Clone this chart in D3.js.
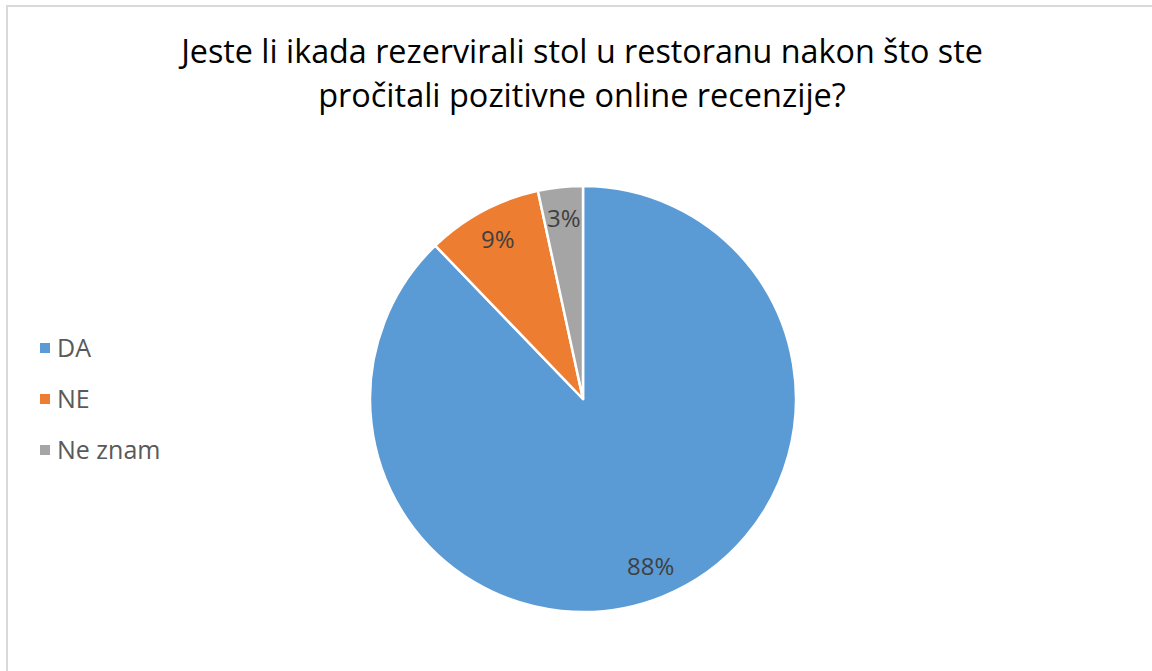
<!DOCTYPE html>
<html>
<head>
<meta charset="utf-8">
<script src="https://cdn.jsdelivr.net/npm/d3@7"></script>
<style>
  html, body { margin: 0; padding: 0; background: #fff; }
  svg { display: block; }
</style>
</head>
<body>
<svg id="chart" width="1152" height="671"></svg>
<script>
const titleLines = ["Jeste li ikada rezervirali stol u restoranu nakon što ste", "pročitali pozitivne online recenzije?"];
const categories = ["DA", "NE", "Ne znam"];
const values = [87.8, 8.8, 3.4];
const labels = ["88%", "9%", "3%"];
const colors = ["#5B9BD5", "#ED7D31", "#A5A5A5"];

const svg = d3.select("#chart");
const FONT = "'Open Sans', 'Liberation Sans', sans-serif";

// chart border
svg.append("rect")
  .attr("x", 7).attr("y", 6)
  .attr("width", 1300).attr("height", 800)
  .attr("fill", "#fff")
  .attr("stroke", "#d9d9d9").attr("stroke-width", 2);

// title
const title = svg.append("g");
const titleBaselines = [63, 107];
const titleWidths = [802, 528];
titleLines.forEach((t, i) => {
  const txt = title.append("text")
    .attr("x", 582).attr("y", titleBaselines[i])
    .attr("text-anchor", "middle")
    .attr("font-family", FONT)
    .attr("font-size", 28)
    .attr("fill", "#000")
    .text(t);
  const w = txt.node().getComputedTextLength();
  txt.attr("font-size", 28 * titleWidths[i] / w);
});

// pie
const cx = 583, cy = 399, R = 213;
const data = categories.map((c, i) => ({ cat: c, value: values[i], label: labels[i], color: colors[i] }));
const pie = d3.pie().value(d => d.value).sort(null).startAngle(0).endAngle(2 * Math.PI);
const arc = d3.arc().innerRadius(0).outerRadius(R);
const labelArc = d3.arc().innerRadius(R * 0.85).outerRadius(R * 0.85);
const arcs = pie(data);

const g = svg.append("g").attr("transform", `translate(${cx},${cy})`);
g.selectAll("path.slice").data(arcs).join("path")
  .attr("class", "slice")
  .attr("d", arc)
  .attr("fill", d => d.data.color)
  .attr("stroke", "#fff")
  .attr("stroke-width", 2.5)
  .attr("stroke-linejoin", "round");

g.selectAll("text.lbl").data(arcs).join("text")
  .attr("class", "lbl")
  .attr("transform", d => `translate(${labelArc.centroid(d)})`)
  .attr("text-anchor", "middle")
  .attr("dy", "0.35em")
  .attr("font-family", FONT)
  .attr("font-size", 24)
  .attr("fill", "#404040")
  .text(d => d.data.label);

// legend
const legend = svg.append("g");
const legendY = d3.scalePoint().domain(categories).range([348, 450]);
const items = legend.selectAll("g").data(data).join("g")
  .attr("transform", d => `translate(40,${legendY(d.cat)})`);
items.append("rect")
  .attr("x", 0).attr("y", -5)
  .attr("width", 10).attr("height", 10)
  .attr("fill", d => d.color);
items.append("text")
  .attr("x", 17).attr("y", 0)
  .attr("dy", "0.35em")
  .attr("font-family", FONT)
  .attr("font-size", 25)
  .attr("fill", "#595959")
  .text(d => d.cat);
</script>
</body>
</html>
